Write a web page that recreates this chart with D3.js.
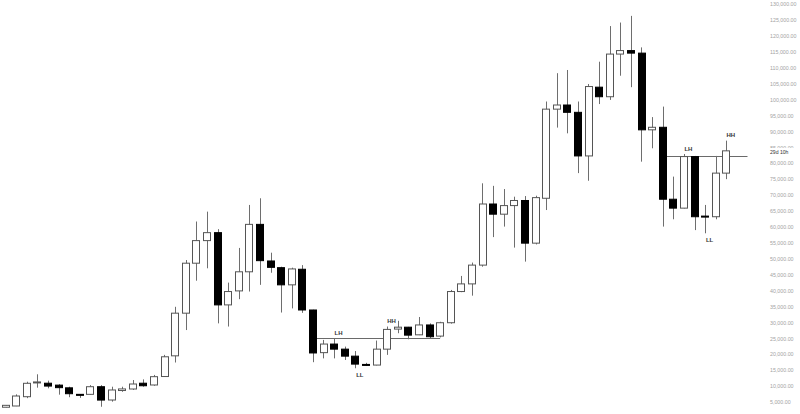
<!DOCTYPE html>
<html>
<head>
<meta charset="utf-8">
<script src="https://cdn.jsdelivr.net/npm/d3@7"></script>
<style>
  html, body { margin: 0; padding: 0; background: #ffffff; }
  svg { display: block; }
</style>
</head>
<body>
<script>
// ---- data ----
const periods = d3.range(69).map(i => "P" + (i + 1));
const opens  = [3350,3740,6660,11000,10900,10300,9450,7400,7400,9800,5620,8600,9080,10900,10340,13000,19500,32900,48600,55700,58200,35500,39900,45900,60800,49300,47200,41800,46700,33900,20500,23200,21600,19400,16800,16600,21600,27900,28500,26100,29200,25700,29900,39700,42100,48000,67200,64000,66700,68300,54900,69000,97000,98300,96000,82300,103900,100900,114300,115400,114600,90500,91300,68700,65900,82100,63400,63200,76900];
const highs  = [4000,7400,11370,13700,11700,10600,9800,7500,10300,10300,9800,9800,11900,12100,13500,19800,34900,49600,61700,64800,59300,42500,53400,66900,69000,51900,47500,47200,48000,34000,24500,25000,22400,21000,17300,24300,28700,30500,28600,31700,29700,30200,40200,44600,48800,73700,72900,71900,69500,69700,69800,99400,108300,109300,99400,104900,111900,123100,124200,126300,116400,94500,97800,75800,82900,82300,66900,82300,87100];
const lows   = [3300,3700,6200,9500,9300,7300,6500,6300,7300,3500,5100,8200,8800,9800,10100,12900,17400,27600,43100,47000,29700,28700,37300,39700,41800,45600,33100,34400,33000,17500,18700,18700,18200,15600,16300,16500,19800,26600,24700,26000,25000,25300,29600,39500,38400,47500,56800,60100,53500,49100,54500,65300,91200,89400,76900,74500,98600,99900,107500,103900,80500,84700,60100,62400,65800,59000,58000,62400,75000];
const closes = [3950,6880,10870,11300,10000,9500,7600,7150,9800,5600,8770,9100,10650,10100,12950,19200,32900,48600,55700,58200,35500,39700,45900,60800,49400,47300,41800,46800,33900,20400,23200,21600,19400,16900,16500,21600,27800,28500,26000,29200,25500,29900,39700,42100,48000,67200,64000,66700,68300,54900,69200,97000,98300,96000,82300,104100,100900,114300,115400,114600,90500,91300,68700,65900,82100,63200,63200,76900,83900];
const tickValues = d3.range(5000, 130001, 5000);
// structure annotations: candle index, text, which extreme
const markIdx  = [31, 36, 33, 64, 66, 68];
const markText = ["LH", "HH", "LL", "LH", "LL", "HH"];
const markSide = ["high", "high", "low", "high", "low", "high"];
// horizontal levels: price, start candle index, end candle index
const levelPrice = [25000, 82200];
const levelFrom  = [29, 62];
const levelTo    = [41, 70];
const countdown = "29d 10h";

const candles = periods.map((p, i) => ({ p, i, o: opens[i], h: highs[i], l: lows[i], c: closes[i] }));

// ---- layout ----
const W = 800, H = 414;
const svg = d3.select("body").append("svg").attr("width", W).attr("height", H);

const x = d3.scaleLinear().domain([0, 68]).range([5.5, 726.3]);
const step = x(1) - x(0);
const bw = step * 0.74;
const y = d3.scaleLinear().domain([0, 130000]).range([417.9, 4.1]);

// levels
svg.append("g").selectAll("line").data(levelPrice).join("line")
  .attr("x1", (d, k) => x(levelFrom[k]) + bw / 2)
  .attr("x2", (d, k) => x(levelTo[k]))
  .attr("y1", d => Math.round(y(d)) + 0.5)
  .attr("y2", d => Math.round(y(d)) + 0.5)
  .attr("stroke", "#6a6a6a").attr("stroke-width", 1);

// wicks
const g = svg.append("g");
g.selectAll("line.wick").data(candles).join("line").attr("class", "wick")
  .attr("x1", d => Math.round(x(d.i)) + 0.5).attr("x2", d => Math.round(x(d.i)) + 0.5)
  .attr("y1", d => y(d.h)).attr("y2", d => y(d.l))
  .attr("stroke", "#6e6e6e").attr("stroke-width", 1);

// bodies
g.selectAll("rect.body").data(candles).join("rect").attr("class", "body")
  .attr("x", d => Math.round(x(d.i) - bw / 2) + 0.5)
  .attr("width", Math.round(bw) - 1)
  .attr("y", d => y(Math.max(d.o, d.c)))
  .attr("height", d => Math.max(1, Math.abs(y(d.o) - y(d.c))))
  .attr("fill", d => d.c >= d.o ? "#ffffff" : "#000000")
  .attr("stroke", d => d.c >= d.o ? "#555555" : "#000000")
  .attr("stroke-width", 1);

// annotations
svg.append("g").selectAll("text").data(markIdx).join("text")
  .attr("x", (d, k) => x(d) + 4.5)
  .attr("y", (d, k) => markSide[k] === "high" ? y(highs[d]) - 3.5 : y(lows[d]) + 8.5)
  .attr("text-anchor", "middle")
  .attr("font-family", "Liberation Sans, Arial, sans-serif")
  .attr("font-size", 6).attr("font-weight", 700)
  .attr("fill", "#333")
  .text((d, k) => markText[k]);

// price axis
const axis = d3.axisRight(y).tickValues(tickValues).tickSize(0).tickPadding(0)
  .tickFormat(d3.format(",.2f"));
const ag = svg.append("g").attr("transform", "translate(770,0)").call(axis);
ag.select(".domain").remove();
ag.selectAll("text")
  .attr("font-family", "Liberation Sans, Arial, sans-serif")
  .attr("font-size", 5.3).attr("fill", "#a3a3a3");

// countdown label
svg.append("rect").attr("x", 766).attr("y", 148).attr("width", 34).attr("height", 8).attr("fill", "#fff");
svg.append("text").attr("x", 770).attr("y", 154)
  .attr("font-family", "Liberation Sans, Arial, sans-serif")
  .attr("font-size", 5.1).attr("fill", "#333").text(countdown);
</script>
</body>
</html>
